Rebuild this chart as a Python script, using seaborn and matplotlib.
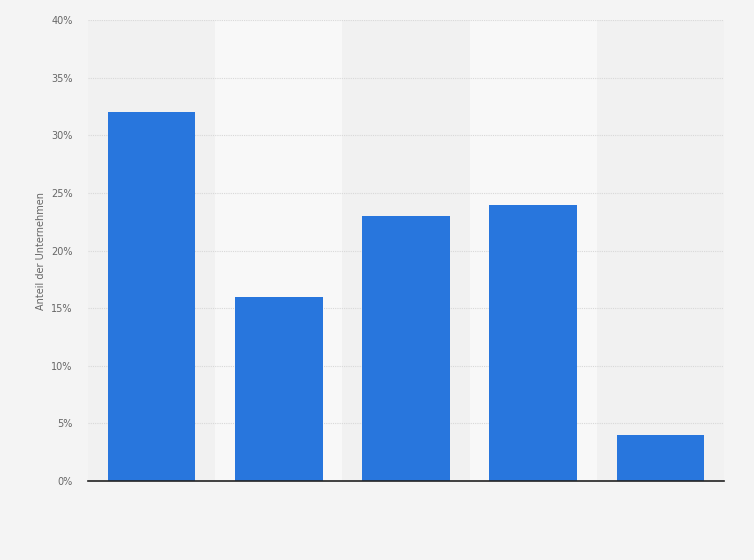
import matplotlib
matplotlib.use("Agg")
import matplotlib.pyplot as plt
import pandas as pd
import seaborn as sns
from matplotlib.ticker import FuncFormatter

# Data (no category labels are shown)
categories = ["Kategorie 1", "Kategorie 2", "Kategorie 3", "Kategorie 4", "Kategorie 5"]
shares = [32, 16, 23, 24, 4]
y_ticks = [0, 5, 10, 15, 20, 25, 30, 35, 40]

df = pd.DataFrame({"category": categories, "share": shares})

sns.set_theme(style="white")
plt.rcParams['font.family'] = ['DejaVu Sans']

fig = plt.figure(figsize=(7.54, 5.6), dpi=100, facecolor="#f4f4f4")
ax = fig.add_axes([0.1167, 0.141, 0.8435, 0.823])
ax.set_facecolor("#f1f1f1")

# lighter alternating column bands
for i in range(len(categories)):
    if i % 2 == 1:
        ax.axvspan(i - 0.5, i + 0.5, color="#f8f8f8", zorder=0, lw=0)

sns.barplot(data=df, x="category", y="share", color="#2876dd", saturation=1,
            width=0.69, ax=ax, zorder=3, linewidth=0)

ax.set_xlim(-0.5, len(categories) - 0.5)
ax.set_ylim(0, 40)
ax.set_yticks(y_ticks)
ax.yaxis.set_major_formatter(FuncFormatter(lambda v, p: f"{v:.0f}%"))
ax.tick_params(axis="y", labelsize=7, colors="#666666", length=0, pad=11)
ax.set_xticks(range(len(categories)))
ax.set_xticklabels([])
ax.tick_params(axis="x", length=0)
ax.set_xlabel("")
ax.set_ylabel("Anteil der Unternehmen", fontsize=7, color="#666666", labelpad=4)

ax.grid(axis="y", color="#d8d8d8", linestyle=(0, (1, 1)), linewidth=0.8, zorder=1)
ax.set_axisbelow(True)
for s in ["top", "right", "left"]:
    ax.spines[s].set_visible(False)
ax.spines["bottom"].set_color("#222222")
ax.spines["bottom"].set_linewidth(1.2)
ax.spines["bottom"].set_zorder(5)

fig.savefig("out.png", dpi=100, facecolor=fig.get_facecolor())
